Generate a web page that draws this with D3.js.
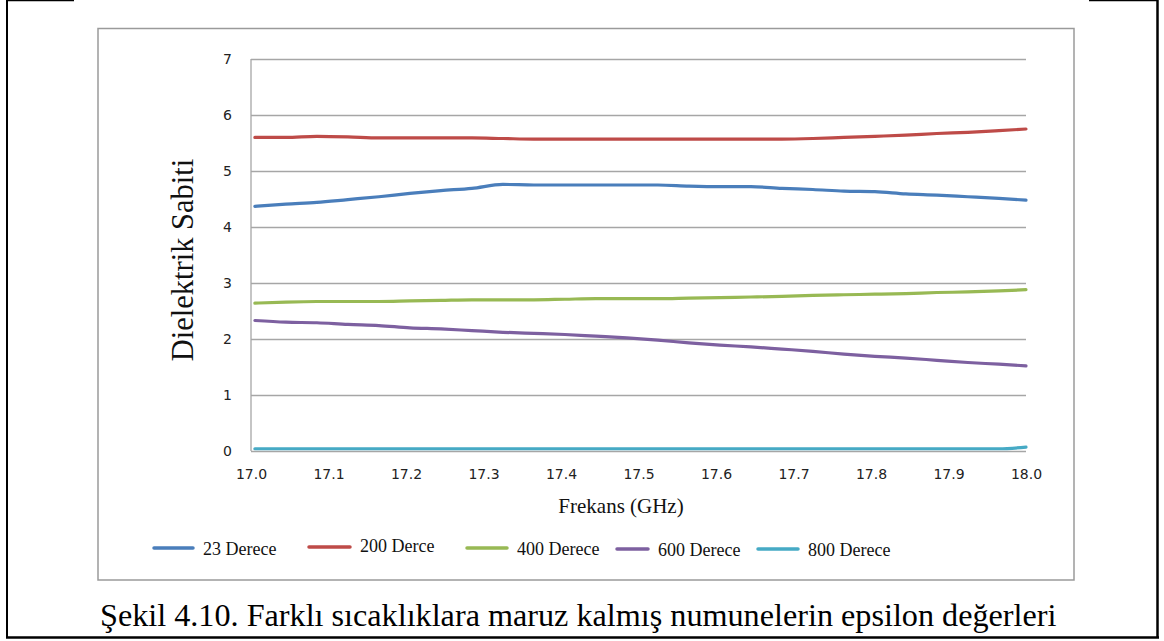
<!DOCTYPE html>
<html>
<head>
<meta charset="utf-8">
<script src="https://cdn.jsdelivr.net/npm/d3@7"></script>
<style>
  body { margin: 0; background: #fff; }
  svg { display: block; }
</style>
</head>
<body>
<div id="viz"></div>
<script>
// frequencies (GHz)
var freq = [17.005, 17.045, 17.085, 17.125, 17.165, 17.205, 17.245, 17.285, 17.325, 17.365,
            17.405, 17.445, 17.485, 17.525, 17.565, 17.605, 17.645, 17.685, 17.725, 17.765,
            17.805, 17.845, 17.885, 17.925, 17.965, 18.0];

var d23  = [4.37, 4.41, 4.44, 4.49, 4.54, 4.60, 4.65, 4.69, 4.76, 4.75,
            4.75, 4.75, 4.75, 4.75, 4.73, 4.72, 4.72, 4.69, 4.67, 4.64,
            4.63, 4.59, 4.57, 4.54, 4.51, 4.48];
var d200 = [5.60, 5.60, 5.62, 5.61, 5.59, 5.59, 5.59, 5.59, 5.58, 5.57,
            5.57, 5.57, 5.57, 5.57, 5.57, 5.57, 5.57, 5.57, 5.58, 5.60,
            5.62, 5.64, 5.67, 5.69, 5.72, 5.75];
var d400 = [2.64, 2.66, 2.67, 2.67, 2.67, 2.68, 2.69, 2.70, 2.70, 2.70,
            2.71, 2.72, 2.72, 2.72, 2.73, 2.74, 2.75, 2.76, 2.78, 2.79,
            2.80, 2.81, 2.83, 2.84, 2.86, 2.88];
var d600 = [2.33, 2.30, 2.29, 2.26, 2.24, 2.20, 2.18, 2.15, 2.12, 2.10,
            2.08, 2.05, 2.02, 1.98, 1.93, 1.89, 1.86, 1.82, 1.78, 1.73,
            1.69, 1.66, 1.62, 1.58, 1.55, 1.52];
var d800 = [0.04, 0.04, 0.04, 0.04, 0.04, 0.04, 0.04, 0.04, 0.04, 0.04,
            0.04, 0.04, 0.04, 0.04, 0.04, 0.04, 0.04, 0.04, 0.04, 0.04,
            0.04, 0.04, 0.04, 0.04, 0.04, 0.07];

var seriesNames = ["23 Derece", "200 Derce", "400 Derece", "600 Derece", "800 Derece"];
var seriesColors = ["#4a7ebb", "#be4b48", "#98b954", "#7d60a0", "#46aac5"];
var seriesData = [d23, d200, d400, d600, d800];

var xTicks = [17.0, 17.1, 17.2, 17.3, 17.4, 17.5, 17.6, 17.7, 17.8, 17.9, 18.0];
var yTicks = [0, 1, 2, 3, 4, 5, 6, 7];

var width = 1164, height = 641;

var svg = d3.select('#viz')
  .append('svg')
  .attr('width', width)
  .attr('height', height);

// page table borders
var border = svg.append('g').attr('stroke', '#000').attr('fill', 'none');
border.append('line').attr('x1', 6).attr('x2', 74).attr('y1', 0.5).attr('y2', 0.5).attr('stroke-width', 1.5);
border.append('line').attr('x1', 1089).attr('x2', 1158).attr('y1', 0.5).attr('y2', 0.5).attr('stroke-width', 1.5);
border.append('line').attr('x1', 7).attr('x2', 7).attr('y1', 0).attr('y2', 638).attr('stroke-width', 2);
border.append('line').attr('x1', 1157.5).attr('x2', 1157.5).attr('y1', 0).attr('y2', 638).attr('stroke-width', 2.5);
border.append('line').attr('x1', 6).attr('x2', 1159).attr('y1', 637.5).attr('y2', 637.5).attr('stroke-width', 2.5);

// chart frame
svg.append('rect')
  .attr('x', 98).attr('y', 28.5)
  .attr('width', 976).attr('height', 551.5)
  .attr('fill', 'none')
  .attr('stroke', '#9a9a9a')
  .attr('stroke-width', 1.5);

const xScale = d3.scaleLinear()
  .domain([17.0, 18.0])
  .range([251, 1026]);
const yScale = d3.scaleLinear()
  .domain([0, 7])
  .range([451, 59]);

// gridlines
svg.append('g')
  .attr('class', 'grid')
  .attr('transform', 'translate(251,0)')
  .call(d3.axisLeft(yScale).tickValues(yTicks).tickSize(-775).tickFormat(''))
  .call(g => g.select('.domain').remove())
  .selectAll('line')
  .attr('stroke', '#a6a6a6')
  .attr('stroke-width', 1.3);

// left axis line
svg.append('line')
  .attr('x1', 251).attr('x2', 251)
  .attr('y1', yScale(7)).attr('y2', yScale(0))
  .attr('stroke', '#a6a6a6')
  .attr('stroke-width', 1.3);

// y tick labels
svg.append('g')
  .attr('transform', 'translate(232,0)')
  .call(d3.axisLeft(yScale).tickValues(yTicks).tickSize(0).tickPadding(0).tickFormat(d3.format('d')))
  .call(g => g.select('.domain').remove())
  .selectAll('text')
  .attr('font-family', 'DejaVu Sans')
  .attr('font-size', 14)
  .attr('fill', '#222');

// x tick labels
svg.append('g')
  .attr('transform', 'translate(0,469)')
  .call(d3.axisBottom(xScale).tickValues(xTicks).tickSize(0).tickPadding(0).tickFormat(d3.format('.1f')))
  .call(g => g.select('.domain').remove())
  .selectAll('text')
  .attr('font-family', 'DejaVu Sans')
  .attr('font-size', 14)
  .attr('fill', '#222');

// lines
var line = d3.line()
  .x((d, i) => xScale(freq[i]))
  .y(d => yScale(d))
  .curve(d3.curveMonotoneX);

svg.append('g')
  .selectAll('path')
  .data(seriesData)
  .join('path')
  .attr('d', line)
  .attr('fill', 'none')
  .attr('stroke', (d, i) => seriesColors[i])
  .attr('stroke-width', 3.2)
  .attr('stroke-linecap', 'round')
  .attr('stroke-linejoin', 'round');

// axis titles
svg.append('text')
  .attr('transform', 'translate(193,260) rotate(-90)')
  .attr('text-anchor', 'middle')
  .attr('font-family', 'Liberation Serif')
  .attr('font-size', 30.5)
  .attr('fill', '#111')
  .text('Dielektrik Sabiti');

svg.append('text')
  .attr('x', 621).attr('y', 513)
  .attr('text-anchor', 'middle')
  .attr('font-family', 'Liberation Serif')
  .attr('font-size', 21)
  .attr('fill', '#111')
  .text('Frekans (GHz)');

// legend
var legX = [154, 309, 467, 617, 758];
var legLen = [39, 41, 40, 31, 40];
var legY = [548, 547, 548, 549, 549];
var legend = svg.append('g')
  .selectAll('g')
  .data(seriesNames)
  .join('g')
  .attr('transform', (d, i) => 'translate(' + legX[i] + ',' + legY[i] + ')');

legend.append('line')
  .attr('x1', 0)
  .attr('x2', (d, i) => legLen[i])
  .attr('stroke', (d, i) => seriesColors[i])
  .attr('stroke-width', 3.5)
  .attr('stroke-linecap', 'round');

legend.append('text')
  .attr('x', (d, i) => legLen[i] + 10)
  .attr('y', (d, i) => i == 1 ? 5 : 7)
  .attr('font-family', 'Liberation Serif')
  .attr('font-size', 18)
  .attr('fill', '#111')
  .text(d => d);

// caption
svg.append('text')
  .attr('x', 100).attr('y', 626)
  .attr('font-family', 'Liberation Serif')
  .attr('font-size', 32.2)
  .attr('fill', '#000')
  .text('Şekil 4.10. Farklı sıcaklıklara maruz kalmış numunelerin epsilon değerleri');
</script>
</body>
</html>
